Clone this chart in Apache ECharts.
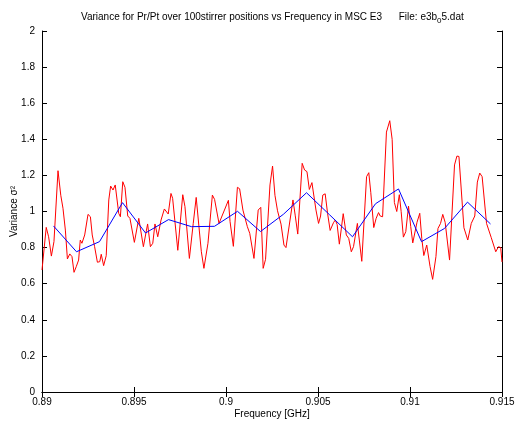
<!DOCTYPE html>
<html>
<head>
<meta charset="utf-8">
<script src="https://cdn.jsdelivr.net/npm/echarts@6/dist/echarts.min.js"></script>
<style>
html,body{margin:0;padding:0;background:#fff;}
#chart{width:515px;height:421px;}
</style>
</head>
<body>
<div id="chart"></div>
<script>
// Red trace: variance vs frequency (GHz)
const redFreq = [0.89000,0.89023,0.89036,0.89051,0.89065,0.89087,0.89102,0.89114,0.89127,0.89138,0.89151,0.89163,0.89174,0.89186,0.89199,0.89208,0.89217,0.89232,0.89250,0.89263,0.89273,0.89286,0.89301,0.89314,0.89322,0.89335,0.89349,0.89363,0.89373,0.89386,0.89398,0.89417,0.89426,0.89439,0.89451,0.89466,0.89478,0.89502,0.89526,0.89551,0.89574,0.89589,0.89602,0.89614,0.89629,0.89647,0.89665,0.89686,0.89701,0.89710,0.89738,0.89765,0.89777,0.89801,0.89822,0.89838,0.89853,0.89866,0.89880,0.89890,0.89902,0.89926,0.89938,0.89962,0.90013,0.90022,0.90040,0.90062,0.90074,0.90092,0.90116,0.90129,0.90152,0.90175,0.90189,0.90202,0.90215,0.90239,0.90253,0.90266,0.90280,0.90299,0.90315,0.90326,0.90348,0.90364,0.90376,0.90390,0.90414,0.90427,0.90440,0.90453,0.90467,0.90477,0.90489,0.90503,0.90514,0.90526,0.90539,0.90552,0.90566,0.90584,0.90594,0.90604,0.90616,0.90637,0.90654,0.90667,0.90681,0.90693,0.90714,0.90738,0.90764,0.90776,0.90787,0.90803,0.90816,0.90829,0.90838,0.90851,0.90872,0.90890,0.90903,0.90915,0.90928,0.90942,0.90952,0.90964,0.90977,0.90992,0.91004,0.91015,0.91038,0.91053,0.91064,0.91075,0.91091,0.91109,0.91123,0.91128,0.91141,0.91152,0.91166,0.91178,0.91191,0.91215,0.91242,0.91255,0.91266,0.91293,0.91314,0.91333,0.91343,0.91352,0.91366,0.91379,0.91392,0.91416,0.91441,0.91466,0.91481,0.91493,0.91500];
const redVar = [0.676,0.912,0.86,0.753,0.833,1.226,1.09,1.018,0.897,0.737,0.765,0.75,0.663,0.694,0.731,0.842,0.824,0.87,0.984,0.971,0.87,0.805,0.719,0.722,0.763,0.7,0.755,1.064,1.141,1.119,1.147,0.99,0.971,1.165,1.134,0.975,0.962,0.829,0.962,0.805,0.931,0.805,0.824,0.931,0.86,0.953,1.014,0.986,1.1,1.073,0.785,1.093,1.027,0.74,0.934,1.078,0.916,0.777,0.685,0.685,0.824,1.091,1.067,0.934,1.062,0.944,0.807,1.134,1.126,1.008,0.916,0.879,0.74,1.008,1.023,0.685,0.735,1.147,1.252,1.09,1.004,0.93,0.814,0.8,0.953,1.064,0.98,0.875,1.267,1.23,1.221,1.122,1.16,1.156,1.008,0.934,0.975,1.091,1.098,0.99,0.895,0.938,0.953,0.928,0.819,0.988,0.87,0.851,0.777,0.805,0.934,0.724,1.193,1.215,1.104,0.911,0.962,0.994,0.975,0.971,1.44,1.503,1.40,1.05,1.0,1.093,0.999,0.858,0.888,1.03,0.916,0.826,0.94,0.99,0.851,0.756,0.814,0.695,0.624,0.62,0.75,0.906,0.934,0.984,0.94,0.731,1.258,1.307,1.305,0.91,0.842,0.934,0.925,0.975,1.163,1.213,1.193,0.934,0.857,0.777,0.805,0.80,0.72];
// Blue trace: smoothed variance
const blueFreq = [0.890625,0.891875,0.893125,0.894375,0.895625,0.896875,0.898125,0.899375,0.900625,0.901875,0.903125,0.904375,0.905625,0.906875,0.908125,0.909375,0.910625,0.911875,0.913125,0.914375];
const blueVar = [0.920,0.777,0.833,1.049,0.881,0.955,0.916,0.918,1.001,0.889,0.985,1.104,0.982,0.860,1.043,1.125,0.833,0.906,1.052,0.931];

const titleMain = 'Variance for Pr/Pt over 100stirrer positions vs Frequency in MSC E3      File: e3b';
const titleSub = '0';
const titleEnd = '5.dat';

const FONT = '"Liberation Sans", Arial, sans-serif';
const chart = echarts.init(document.getElementById('chart'));
const zip = (a, b) => a.map((v, i) => [v, b[i]]);

const tickStyle = { show: true, inside: true, length: 5, lineStyle: { color: '#000', width: 1 } };
const lineStyle = { show: true, lineStyle: { color: '#000', width: 1 } };

chart.setOption({
  animation: false,
  backgroundColor: '#fff',
  textStyle: { fontFamily: FONT },
  title: {
    text: '{a|' + titleMain + '}{s|' + titleSub + '}{a|' + titleEnd + '}',
    left: 76, top: 5,
    textStyle: {
      fontWeight: 'normal',
      rich: {
        a: { fontFamily: FONT, fontSize: 10, fontWeight: 'normal', color: '#000', lineHeight: 14 },
        s: { fontFamily: FONT, fontSize: 8, fontWeight: 'normal', color: '#000', lineHeight: 14, padding: [7, 0, 0, 0] }
      }
    }
  },
  grid: { left: 42, right: 13, top: 31, bottom: 29, containLabel: false, outerBoundsMode: 'none' },
  xAxis: [
    {
      type: 'value', min: 0.89, max: 0.915, interval: 0.005,
      name: 'Frequency [GHz]', nameLocation: 'middle', nameGap: 17, nameMoveOverlap: false,
      nameTextStyle: { fontFamily: FONT, fontSize: 10, color: '#000' },
      axisLine: lineStyle, axisTick: tickStyle, splitLine: { show: false },
      axisLabel: { fontFamily: FONT, fontSize: 10, color: '#000', margin: 5,
        formatter: v => String(+v.toFixed(3)) }
    },
    {
      type: 'value', position: 'top', min: 0.89, max: 0.915, interval: 0.005,
      axisLine: lineStyle, axisTick: tickStyle, splitLine: { show: false },
      axisLabel: { show: false }
    }
  ],
  yAxis: [
    {
      type: 'value', min: 0, max: 2, interval: 0.2,
      name: 'Variance σ²', nameLocation: 'middle', nameGap: 23, nameMoveOverlap: false,
      nameTextStyle: { fontFamily: FONT, fontSize: 10, color: '#000' },
      axisLine: lineStyle, axisTick: tickStyle, splitLine: { show: false },
      axisLabel: { fontFamily: FONT, fontSize: 10, color: '#000', margin: 7,
        formatter: v => String(+v.toFixed(1)) }
    },
    {
      type: 'value', position: 'right', min: 0, max: 2, interval: 0.2,
      axisLine: lineStyle, axisTick: tickStyle, splitLine: { show: false },
      axisLabel: { show: false }
    }
  ],
  series: [
    {
      type: 'line', data: zip(redFreq, redVar), showSymbol: false, symbol: 'none',
      lineStyle: { color: '#ff0000', width: 1 }, smooth: false
    },
    {
      type: 'line', data: zip(blueFreq, blueVar), showSymbol: false, symbol: 'none',
      lineStyle: { color: '#0000ff', width: 1 }, smooth: false
    }
  ]
});
</script>
</body>
</html>
